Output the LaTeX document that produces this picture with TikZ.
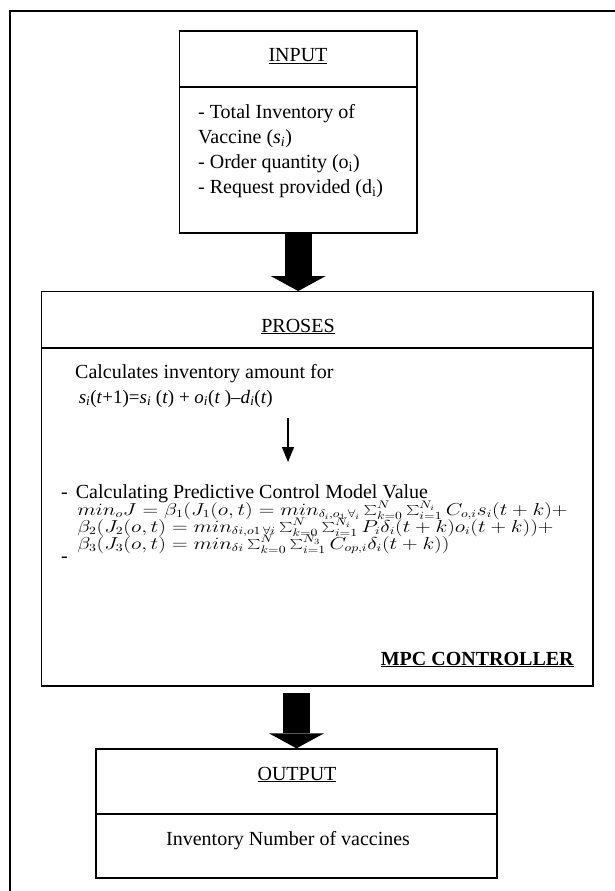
\documentclass[tikz,border=0pt]{standalone}
\usepackage{fontspec}
\setmainfont{Liberation Serif}
\usetikzlibrary{arrows.meta}
\tikzset{
  box/.style={draw, line width=1.3pt, rectangle, inner sep=0pt},
  fat/.style={line width=27pt, -{Triangle[width=55pt,length=15pt,line width=0pt]}},
  txt/.style={anchor=base west, inner sep=0pt},
  eq/.style={anchor=base west, inner sep=0pt, xscale=1.25, font=\fontsize{16}{17}\selectfont},
}
\newcommand{\ital}[2]{\textit{#1}\textsubscript{\textit{#2}}}
\begin{document}
\begin{tikzpicture}[x=1pt, y=-1pt, font=\fontsize{20}{25}\selectfont]
    \clip (0,0) rectangle (615,891);
    \draw[line width=1.6pt] (10,11) rectangle (640,930);
    % boxes
    \node[box, minimum width=237.5pt, minimum height=202pt] (in) at (298.25,132) {};
    \node[box, minimum width=551.3pt, minimum height=394.3pt] (pro) at (317.35,488.85) {};
    \node[box, minimum width=401pt, minimum height=129pt] (out) at (296.5,813.5) {};
    \draw[line width=1.3pt] (in.west |- 0,87) -- (in.east |- 0,87);
    \draw[line width=1.3pt] (pro.west |- 0,348) -- (pro.east |- 0,348);
    \draw[line width=1.3pt] (out.west |- 0,814) -- (out.east |- 0,814);
    % input
    \node[anchor=base, inner sep=0pt] (inlbl) at (298,62) {\underline{INPUT}};
    \node[txt] (in1) at (198,118) {- Total Inventory of};
    \node[txt] (in2) at (198,143) {Vaccine (\ital{s}{i})};
    \node[txt] (in3) at (198,168) {- Order quantity (o\textsubscript{i})};
    \node[txt] (in4) at (198,193) {- Request provided (d\textsubscript{i})};
    % proses
    \node[anchor=base, inner sep=0pt] (prolbl) at (298,332) {\underline{PROSES}};
    \node[txt] (calc) at (75,378) {Calculates inventory amount for};
    \node[anchor=base east, inner sep=0pt, font=\fontsize{19}{25}\selectfont] (stock) at (273,403) {\ital{s}{i}(\textit{t}+1)=\ital{s}{i} (\textit{t}) + \ital{o}{i}(\textit{t} )--\ital{d}{i}(\textit{t})};
    \coordinate (down1) at (288,418);
    \coordinate (down2) at (288,462);
    \draw[line width=1.3pt, -{Triangle[width=12pt,length=15pt]}] (down1) -- (down2);
    \node[txt] (mpc) at (61,498) {-\hspace{8pt}Calculating Predictive Control Model Value};
    \begin{scope}
      \clip (pro.north west) rectangle (pro.south east);
      \node[eq] (f1) at (77,515) {\smash{$min_o J = \beta_1(J_1(o,t) = min_{\delta_i,o_1\,\forall_i}\sum_{k=0}^{N}\sum_{i=1}^{N_i} C_{o,i}s_i(t+k)+$}};
      \node[eq] (f2) at (77,532) {\smash{$\beta_2(J_2(o,t) = min_{\delta i,o1\,\forall i}\sum_{k=0}^{N}\sum_{i=1}^{N_i} P_i\delta_i(t+k)o_i(t+k))+$}};
      \node[eq] (f3) at (77,549) {\smash{$\beta_3(J_3(o,t) = min_{\delta i}\sum_{k=0}^{N}\sum_{i=1}^{N_3} C_{op,i}\delta_i(t+k))$}};
    \end{scope}
    \node[txt] (dash) at (61,562) {-};
    \node[anchor=base east, inner sep=0pt] (ctrl) at (574,665) {\underline{\textbf{MPC CONTROLLER}}};
    % output
    \node[anchor=base, inner sep=0pt] (outlbl) at (297,780) {\underline{OUTPUT}};
    \node[txt] (res) at (166,845) {Inventory Number of vaccines};
    % flow
    \draw[fat] (in.south) -- (in.south |- pro.north);
    \draw[fat, shorten <=6pt] (out.north |- pro.south) -- (out.north);
\end{tikzpicture}
\end{document}
